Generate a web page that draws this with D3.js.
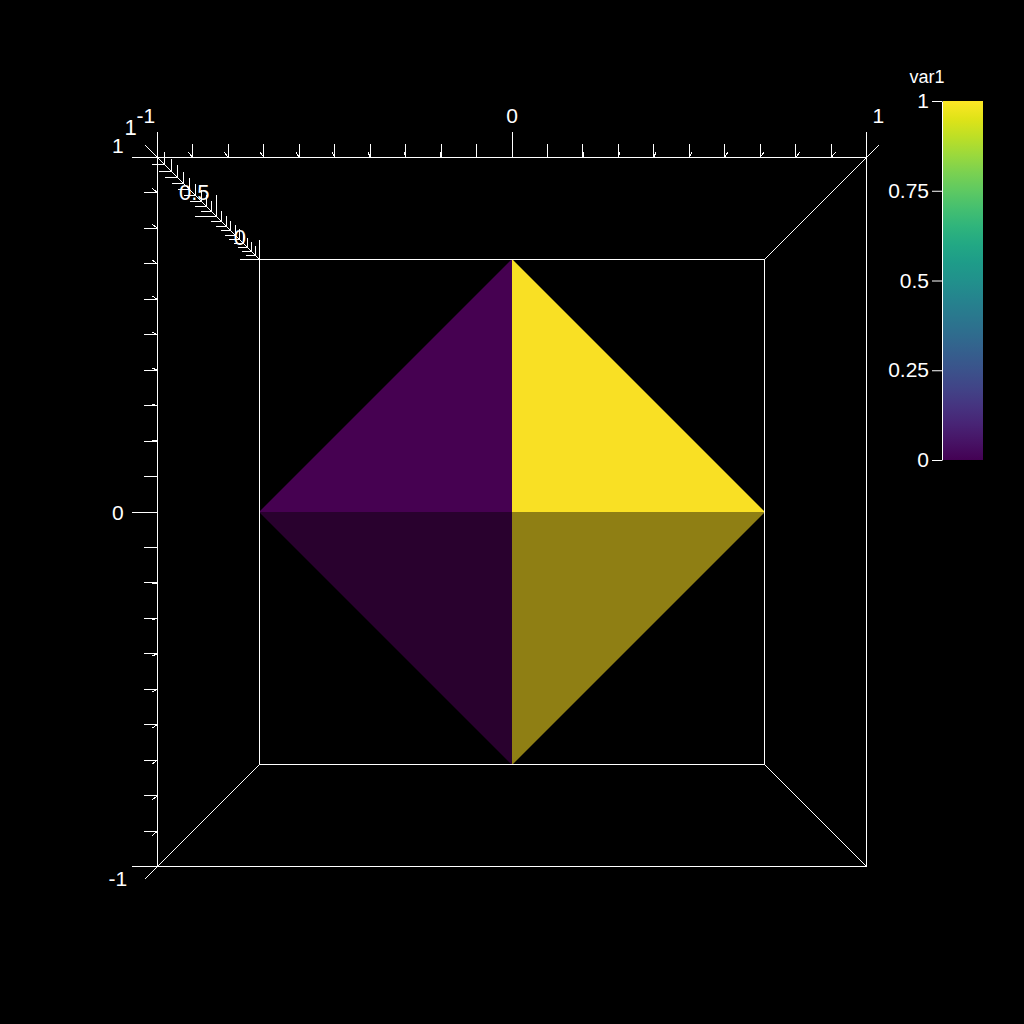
<!DOCTYPE html>
<html>
<head>
<meta charset="utf-8">
<script src="https://cdn.jsdelivr.net/npm/d3@7"></script>
<style>
  body { margin: 0; background: #000; }
  svg { display: block; font-family: "Liberation Sans", Arial, sans-serif; }
</style>
</head>
<body>
<svg id="chart" width="1024" height="1024"></svg>
<script>
// Pyramid: base on z = 0, apex at z = 1
const vertices = [[1, 0, 0], [0, 1, 0], [-1, 0, 0], [0, -1, 0], [0, 0, 1]];
const faceVerts = [[2, 1, 4], [1, 0, 4], [3, 2, 4], [0, 3, 4]];
const faceVar1 = [0, 1, 0, 1];

// Axis labels
const xLabels = [-1, 0, 1];
const yLabels = [-1, 0, 1];
const zLabels = [0, 0.5, 1];
const colorTicks = [0, 0.25, 0.5, 0.75, 1];
const colorTitle = "var1";

const svg = d3.select("#chart");
svg.append("rect").attr("width", 1024).attr("height", 1024).attr("fill", "#000");

// plain hyphen for negatives, like the original
const fmt = d => d3.format("~g")(d).replace("\u2212", "-");

// Front face scales (z = 1) and perspective for depth
const cx = 512, cy = 512;
const x = d3.scaleLinear().domain([-1, 1]).range([157.5, 866.5]);
const y = d3.scaleLinear().domain([-1, 1]).range([866.5, 157.5]);
const z = d3.scaleLinear().domain([0, 1]).range([0.4012, 0]);

function project(px, py, pz) {
    const s = 1 / (1 + z(pz));
    return [cx + (x(px) - cx) * s, cy + (y(py) - cy) * s];
}

// Simple lambert shading from face normals
const light = [0, 0.3637, 1.3163];
function shade(tri) {
    const [a, b, c] = tri.map(i => vertices[i]);
    const u = [b[0] - a[0], b[1] - a[1], b[2] - a[2]];
    const v = [c[0] - a[0], c[1] - a[1], c[2] - a[2]];
    let n = [u[1] * v[2] - u[2] * v[1], u[2] * v[0] - u[0] * v[2], u[0] * v[1] - u[1] * v[0]];
    const len = Math.hypot(n[0], n[1], n[2]);
    n = n.map(d => d / len);
    if (n[2] < 0) n = n.map(d => -d);
    return Math.max(0, Math.min(1, n[0] * light[0] + n[1] * light[1] + n[2] * light[2]));
}

// Faces
const faces = faceVerts.map((f, i) => ({ verts: f, var1: faceVar1[i] }));
svg.append("g").selectAll("path")
    .data(faces)
    .join("path")
    .attr("d", d => "M" + d.verts.map(i => project(...vertices[i]).join(",")).join("L") + "Z")
    .attr("fill", d => {
        const c = d3.rgb(d3.interpolateViridis(d.var1));
        const k = shade(d.verts);
        return d3.rgb(c.r * k + 4, c.g * k, c.b * k);
    });

// Box edges
const corners = [[-1, 1], [1, 1], [1, -1], [-1, -1]];
const segs = [];
corners.forEach((c, i) => {
    const n = corners[(i + 1) % 4];
    segs.push([[c[0], c[1], 1], [n[0], n[1], 1]]);
    segs.push([[c[0], c[1], 0], [n[0], n[1], 0]]);
    segs.push([[c[0], c[1], 1], [c[0], c[1], 0]]);
});

// Ticks
const isMajor = (v, list) => list.some(m => Math.abs(m - v) < 1e-6);
const tickLen = m => m ? 0.0733 : 0.0367;
const tailLen = m => m ? 0.082 : 0.041;

x.ticks(20).forEach(v => {
    const m = isMajor(v, xLabels);
    segs.push([[v, 1, 1], [v, 1 + tickLen(m), 1]]);
    segs.push([[v, 1, 1], [v, 1, 1 + tailLen(m)]]);
});
y.ticks(20).forEach(v => {
    const m = isMajor(v, yLabels);
    segs.push([[-1, v, 1], [-1 - tickLen(m), v, 1]]);
    segs.push([[-1, v, 1], [-1, v, 1 + tailLen(m)]]);
});
z.ticks(20).forEach(v => {
    const m = isMajor(v, zLabels);
    segs.push([[-1, 1, v], [-1 - tickLen(m), 1, v]]);
    segs.push([[-1, 1, v], [-1, 1 + tickLen(m), v]]);
});

svg.append("g")
    .attr("stroke", "#fff")
    .attr("stroke-width", 1)
    .attr("shape-rendering", "crispEdges")
    .selectAll("line")
    .data(segs)
    .join("line")
    .attr("x1", d => project(...d[0])[0])
    .attr("y1", d => project(...d[0])[1])
    .attr("x2", d => project(...d[1])[0])
    .attr("y2", d => project(...d[1])[1]);

// Axis labels
const labels = [
    ...xLabels.map(v => ({ p: project(v, 1.083, 1.08), t: v, size: 21 })),
    ...yLabels.map(v => ({ p: project(-1.076, v, 1.08), t: v, size: 21 })),
    ...zLabels.map(v => ({ p: project(-1.076, 1.085, v), t: v, size: 22 }))
];
svg.append("g").selectAll("text")
    .data(labels)
    .join("text")
    .attr("x", d => d.p[0])
    .attr("y", d => d.p[1])
    .attr("text-anchor", "middle")
    .attr("dy", "0.36em")
    .attr("fill", "#fff")
    .style("font-size", d => d.size + "px")
    .text(d => fmt(d.t));

// Colorbar
const cScale = d3.scaleLinear().domain([0, 1]).range([460, 101]);
const grad = svg.append("defs").append("linearGradient")
    .attr("id", "viridis")
    .attr("x1", 0).attr("y1", 1).attr("x2", 0).attr("y2", 0);
grad.selectAll("stop")
    .data(d3.range(0, 1.0001, 0.05))
    .join("stop")
    .attr("offset", d => d)
    .attr("stop-color", d => d3.interpolateViridis(d));

svg.append("rect")
    .attr("x", 943)
    .attr("y", cScale(1))
    .attr("width", 40)
    .attr("height", cScale(0) - cScale(1))
    .attr("fill", "url(#viridis)");

const cAxis = svg.append("g")
    .attr("transform", "translate(942,0)")
    .attr("color", "#fff")
    .call(d3.axisLeft(cScale).tickValues(colorTicks).tickSize(10).tickSizeOuter(0)
        .tickPadding(3).tickFormat(fmt));
cAxis.selectAll("text").style("font-size", "21px").style("font-family", "Liberation Sans, Arial, sans-serif");

svg.append("text")
    .attr("x", 927)
    .attr("y", 83)
    .attr("text-anchor", "middle")
    .attr("fill", "#fff")
    .style("font-size", "18px")
    .text(colorTitle);
</script>
</body>
</html>
